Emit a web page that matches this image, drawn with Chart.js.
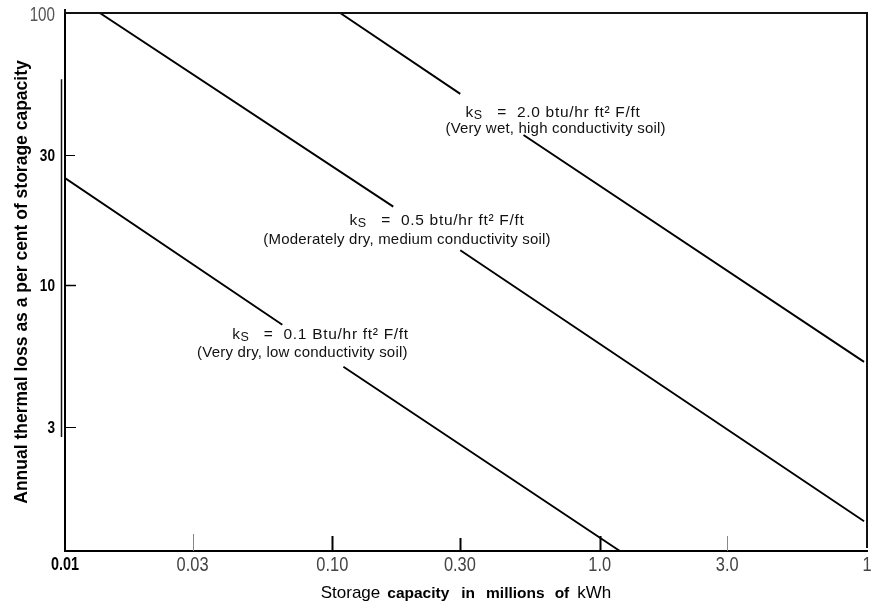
<!DOCTYPE html>
<html>
<head>
<meta charset="utf-8">
<script src="https://cdn.jsdelivr.net/npm/chart.js@4.4.0/dist/chart.umd.min.js"></script>
<style>
  html, body { margin: 0; padding: 0; background: #fff; }
  #wrap { width: 871px; height: 608px; position: relative; }
</style>
</head>
<body>
<div id="wrap"><canvas id="c" width="871" height="608"></canvas></div>
<script>
// Storage capacity (millions of kWh) against annual thermal loss (% of capacity)
// Each soil line is broken where its label sits (null = gap).
const capLow  = [0.01, 0.065, 0.085, 0.110, 1.19];
const lossLow = [24.7, 7.13, null, 5.0, 1.05];
const capMed  = [0.0135, 0.169, 0.23, 0.301, 9.75];
const lossMed = [100, 19.4, null, 13.4, 1.35];
const capHigh  = [0.107, 0.301, 0.40, 0.519, 9.75];
const lossHigh = [100, 50.4, null, 35.6, 5.21];

const xTickValues = [0.01, 0.03, 0.1, 0.3, 1, 3, 10];
const xTickLabels = ['0.01', '0.03', '0.10', '0.30', '1.0', '3.0', '1'];
const yTickValues = [3, 10, 30, 100];
const yTickLabels = ['3', '10', '30', '100'];

const soilValues = ['0.1 Btu/hr ft² F/ft', '0.5 btu/hr ft² F/ft', '2.0 btu/hr ft² F/ft'];
const soilNotes  = ['(Very dry, low conductivity soil)', '(Moderately dry, medium conductivity soil)', '(Very wet, high conductivity soil)'];

const SANS = '"Liberation Sans", Arial, Helvetica, sans-serif';

// where each label's two lines start (data coordinates)
const labelAnchors = [
  { x1: 0.0422, y1: 6.55, x2: 0.0312, y2: 5.62 },
  { x1: 0.116,  y1: 17.2, x2: 0.0552, y2: 14.6 },
  { x1: 0.315,  y1: 42.9, x2: 0.265,  y2: 37.5 }
];

// tick label looks: [font, horizontal squeeze, colour]
const xTickStyle = [
  ['bold 18px ' + SANS, 0.80, '#000'],
  ['20px ' + SANS, 0.82, '#444'],
  ['20px ' + SANS, 0.82, '#444'],
  ['20px ' + SANS, 0.82, '#444'],
  ['20px ' + SANS, 0.82, '#444'],
  ['20px ' + SANS, 0.82, '#444'],
  ['20px ' + SANS, 0.82, '#444']
];
const yTickStyle = [
  ['bold 17px ' + SANS, 0.80, '#000'],
  ['bold 17px ' + SANS, 0.80, '#000'],
  ['bold 17px ' + SANS, 0.80, '#000'],
  ['20px ' + SANS, 0.76, '#555']
];
// inward tick marks: [length, width, colour]
const xTickMarks = [[0,0,'#000'], [17,1,'#888'], [15,2,'#000'], [13,2,'#000'], [15,2,'#000'], [15,1,'#888'], [0,0,'#000']];
const yTickMarks = [[11,1,'#000'], [11,1.5,'#000'], [10,1,'#000'], [0,0,'#000']];

// axis title words: [text, font, gap after]
const xTitleWords = [
  ['Storage', '17px ' + SANS, 7],
  ['capacity', 'bold 15.5px ' + SANS, 12],
  ['in', 'bold 15.5px ' + SANS, 11],
  ['millions', 'bold 15.5px ' + SANS, 10],
  ['of', 'bold 15.5px ' + SANS, 8],
  ['kWh', '17px ' + SANS, 0]
];

const pts = (xs, ys) => xs.map((x, i) => ({ x: x, y: ys[i] }));
const lineStyle = { borderColor: '#000', borderWidth: 1.9, pointRadius: 0, tension: 0, spanGaps: false, fill: false };

function squeezed(ctx, text, font, sx, color, x, y, align) {
  ctx.save();
  ctx.font = font;
  ctx.fillStyle = color;
  ctx.textAlign = align;
  ctx.textBaseline = 'middle';
  ctx.translate(x, y);
  ctx.scale(sx, 1);
  ctx.fillText(text, 0, 0);
  ctx.restore();
}

const framePlugin = {
  id: 'frame',
  afterDraw(chart) {
    const ctx = chart.ctx;
    const a = chart.chartArea;
    const xs = chart.scales.x, ys = chart.scales.y;
    ctx.save();
    ctx.strokeStyle = '#111';
    ctx.lineWidth = 2;
    ctx.beginPath();
    ctx.moveTo(a.left, a.top); ctx.lineTo(a.right + 1, a.top);
    ctx.moveTo(a.right, a.top); ctx.lineTo(a.right, a.bottom - 3);
    ctx.moveTo(a.left, a.top - 4); ctx.lineTo(a.left, a.top);
    ctx.stroke();
    // doubled rule beside the left axis
    ctx.lineWidth = 1.5;
    ctx.beginPath();
    ctx.moveTo(a.left - 3.5, ys.getPixelForValue(57));
    ctx.lineTo(a.left - 3.5, ys.getPixelForValue(2.76));
    ctx.stroke();
    // inward tick marks and tick labels
    xTickValues.forEach((v, i) => {
      const px = xs.getPixelForValue(v);
      const [len, w, col] = xTickMarks[i];
      if (len) {
        const sx = Math.round(px) + 0.5;
        ctx.strokeStyle = col; ctx.lineWidth = w;
        ctx.beginPath(); ctx.moveTo(sx, a.bottom); ctx.lineTo(sx, a.bottom - len); ctx.stroke();
      }
      const st = xTickStyle[i];
      squeezed(ctx, xTickLabels[i], st[0], st[1], st[2], px, a.bottom + 14, 'center');
    });
    yTickValues.forEach((v, i) => {
      const py = ys.getPixelForValue(v);
      const [len, w, col] = yTickMarks[i];
      if (len) {
        const sy = Math.round(py) + 0.5;
        ctx.strokeStyle = col; ctx.lineWidth = w;
        ctx.beginPath(); ctx.moveTo(a.left, sy); ctx.lineTo(a.left + len, sy); ctx.stroke();
      }
      const st = yTickStyle[i];
      squeezed(ctx, yTickLabels[i], st[0], st[1], st[2], a.left - 10, py + (i === 3 ? 2 : 1), 'right');
    });
    // soil labels
    ctx.fillStyle = '#111';
    ctx.textBaseline = 'middle';
    ctx.textAlign = 'left';
    labelAnchors.forEach((an, i) => {
      let x = xs.getPixelForValue(an.x1), y = ys.getPixelForValue(an.y1);
      ctx.letterSpacing = '0px';
      ctx.font = '15.5px ' + SANS;
      ctx.fillText('k', x, y);
      x += ctx.measureText('k').width + 0.5;
      ctx.font = '12.5px ' + SANS;
      ctx.fillText('S', x, y + 3);
      x += ctx.measureText('S').width;
      ctx.font = '15.5px ' + SANS;
      ctx.letterSpacing = '0.7px';
      ctx.fillText('   =  ' + soilValues[i], x, y);
      ctx.font = '15px ' + SANS;
      ctx.letterSpacing = '0.2px';
      ctx.fillText(soilNotes[i], xs.getPixelForValue(an.x2), ys.getPixelForValue(an.y2));
    });
    ctx.letterSpacing = '0px';
    // x axis title, mixed weights
    let total = 0;
    xTitleWords.forEach(wd => { ctx.font = wd[1]; total += ctx.measureText(wd[0]).width + wd[2]; });
    let tx = (a.left + a.right) / 2 - total / 2;
    ctx.textBaseline = 'alphabetic';
    ctx.fillStyle = '#000';
    xTitleWords.forEach(wd => { ctx.font = wd[1]; ctx.fillText(wd[0], tx, 598); tx += ctx.measureText(wd[0]).width + wd[2]; });
    ctx.restore();
  }
};

new Chart(document.getElementById('c'), {
  type: 'line',
  data: {
    datasets: [
      Object.assign({ label: 'ks 0.1', data: pts(capLow, lossLow) }, lineStyle),
      Object.assign({ label: 'ks 0.5', data: pts(capMed, lossMed) }, lineStyle),
      Object.assign({ label: 'ks 2.0', data: pts(capHigh, lossHigh) }, lineStyle)
    ]
  },
  options: {
    responsive: false,
    animation: false,
    devicePixelRatio: 1,
    layout: { padding: { top: 13, right: 4, bottom: 0, left: 0 } },
    plugins: { legend: { display: false }, tooltip: { enabled: false } },
    scales: {
      x: {
        type: 'logarithmic', min: 0.01, max: 10,
        afterFit: s => { s.height = 57; },
        afterBuildTicks: s => { s.ticks = xTickValues.map(v => ({ value: v })); },
        grid: { display: false, drawTicks: false },
        border: { display: true, color: '#000', width: 2 },
        ticks: { display: false }
      },
      y: {
        type: 'logarithmic', min: 1.05, max: 100,
        afterFit: s => { s.width = 65; },
        afterBuildTicks: s => { s.ticks = yTickValues.map(v => ({ value: v })); },
        grid: { display: false, drawTicks: false },
        border: { display: true, color: '#000', width: 2 },
        title: {
          display: true,
          text: 'Annual thermal loss as a per cent of storage capacity',
          font: { family: SANS, size: 17.5, weight: 'bold' },
          color: '#000',
          padding: { top: 12, bottom: 0 }
        },
        ticks: { display: false }
      }
    }
  },
  plugins: [framePlugin]
});
</script>
</body>
</html>
